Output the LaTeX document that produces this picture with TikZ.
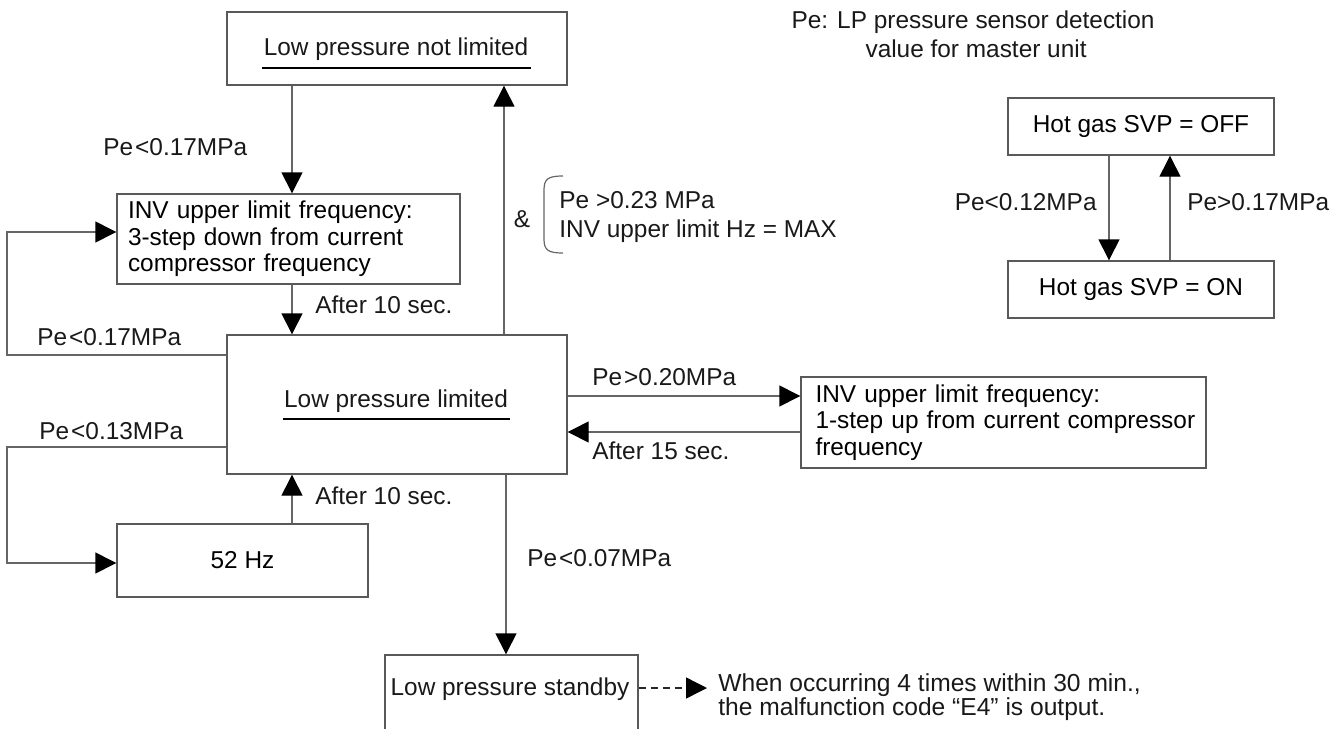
\documentclass[tikz,border=0pt]{standalone}
\usepackage{fontspec}
\setmainfont{Liberation Sans}
\usetikzlibrary{arrows.meta,calc}
\begin{document}
\begin{tikzpicture}[x=0.5pt,y=-0.5pt,
  font=\fontsize{12.2}{13.3}\selectfont,
  box/.style={draw=black!65, line width=0.7pt, rectangle, inner sep=0pt},
  conn/.style={draw=black!60, line width=0.7pt},
  arr/.style={conn, -{Triangle[length=10.5pt,width=10.5pt,black]}},
  lbl/.style={inner sep=0pt, text=black!90},
  uline/.style={draw=black, line width=1.1pt},
]
\useasboundingbox (0,0) rectangle (1341,729);
\clip (0,0) rectangle (1341,729);

% boxes
\node[box, minimum width=170pt, minimum height=36.5pt] (top) at (397,48.5) {};
\node[lbl, anchor=mid] (toptxt) at (396,50) {Low pressure not limited};
\draw[uline] (262,68) -- (531,68);

\node[box, minimum width=171.5pt, minimum height=45pt, text width=160.5pt,
      align=left, inner xsep=5.5pt] (inv1) at (288.5,239)
      {\mbox{INV upper limit frequency:}\\\mbox{3-step down from current}\\\mbox{compressor frequency}};

\node[box, minimum width=170pt, minimum height=69.5pt] (lpl) at (397,404.5) {};
\node[lbl, anchor=mid] (lpltxt) at (396,402) {Low pressure limited};
\draw[uline] (283,419) -- (510,419);

\node[box, minimum width=125.5pt, minimum height=36.5pt] (hz) at (242.5,560.5) {52 Hz};

\node[box, minimum width=202.5pt, minimum height=45.5pt, text width=188pt,
      align=left, inner xsep=7.25pt] (inv2) at (1003.5,422.5)
      {\mbox{INV upper limit frequency:}\\\mbox{1-step up from current compressor}\\\mbox{frequency}};

\node[box, minimum width=126.5pt, minimum height=52.5pt] (standby) at (511.5,707.5) {};
\node[lbl, anchor=mid] (standbytxt) at (510,690) {Low pressure standby};

\node[box, minimum width=133pt, minimum height=28.5pt] (off) at (1141,126.5) {Hot gas SVP = OFF};
\node[box, minimum width=133pt, minimum height=28.5pt] (on) at (1141,289.5) {Hot gas SVP = ON};

\node[lbl, inner xsep=5.5pt, anchor=west, align=left, font=\fontsize{12.3}{12}\selectfont] (note) at (707,697)
  {When occurring 4 times within 30 min.,\\the malfunction code “E4” is output.};

% helper coordinates
\coordinate (xa) at (292,0);
\coordinate (xb) at (504,0);
\coordinate (xc) at (506,0);
\coordinate (xl) at (7,0);
\coordinate (xh1) at (1109,0);
\coordinate (xh2) at (1170,0);
\coordinate (y1) at (0,232);
\coordinate (y2) at (0,355);
\coordinate (y3) at (0,447);
\coordinate (y4) at (0,563);
\coordinate (y5) at (0,396);
\coordinate (y6) at (0,432);
\coordinate (y7) at (0,688);

% connectors
\draw[arr] (top.south -| xa) -- (inv1.north -| xa);
\draw[arr] (inv1.south -| xa) -- (lpl.north -| xa);
\draw[arr] (lpl.north -| xb) -- (top.south -| xb);
\draw[arr] (lpl.west |- y2) -- (xl |- y2) -- (xl |- y1) -- (inv1.west |- y1);
\draw[arr] (lpl.west |- y3) -- (xl |- y3) -- (xl |- y4) -- (hz.west |- y4);
\draw[arr] (hz.north -| xa) -- (lpl.south -| xa);
\draw[arr] (lpl.east |- y5) -- (inv2.west |- y5);
\draw[arr] (inv2.west |- y6) -- (lpl.east |- y6);
\draw[arr] (lpl.south -| xc) -- (standby.north -| xc);
\draw[arr, draw=black!85, dash pattern=on 3.5pt off 2.5pt] (standby.east |- y7) -- (note.west |- y7);
\draw[arr] (off.south -| xh1) -- (on.north -| xh1);
\draw[arr] (on.north -| xh2) -- (off.south -| xh2);

% brace
\draw[conn, line width=0.6pt] (563,176) .. controls (548,176) and (544,179) .. (544,190)
  -- (544,239) .. controls (544,250) and (548,253) .. (563,253);

% labels
\node[lbl, anchor=mid west] (la) at (103,150) {Pe\kern1pt<0.17MPa};
\node[lbl, anchor=mid west] (lb) at (315,308) {After 10 sec.};
\node[lbl, anchor=mid west] (lc) at (37,340) {Pe\kern1pt<0.17MPa};
\node[lbl, anchor=mid west] (ld) at (39,434) {Pe\kern1pt<0.13MPa};
\node[lbl, anchor=mid west] (le) at (315,499) {After 10 sec.};
\node[lbl, anchor=mid west] (lf) at (527,561) {Pe\kern1pt<0.07MPa};
\node[lbl, anchor=mid] (amp) at (522,222) {\&};
\node[lbl, anchor=west, align=left, font=\fontsize{12.2}{14.5}\selectfont] (cond) at (559,217.5)
  {Pe >0.23 MPa\\INV upper limit Hz = MAX};
\node[lbl, anchor=mid west] (lg) at (592,380) {Pe\kern1pt>0.20MPa};
\node[lbl, anchor=mid west] (lh) at (592,454) {After 15 sec.};
\node[lbl, anchor=mid east] (li) at (1097,205) {Pe<0.12MPa};
\node[lbl, anchor=mid west] (lj) at (1187,205) {Pe>0.17MPa};
\node[lbl, anchor=mid east] (pe1) at (1155,23) {Pe: LP pressure sensor detection};
\node[lbl, anchor=mid east] (pe2) at (1087,52) {value for master unit};
\end{tikzpicture}
\end{document}
